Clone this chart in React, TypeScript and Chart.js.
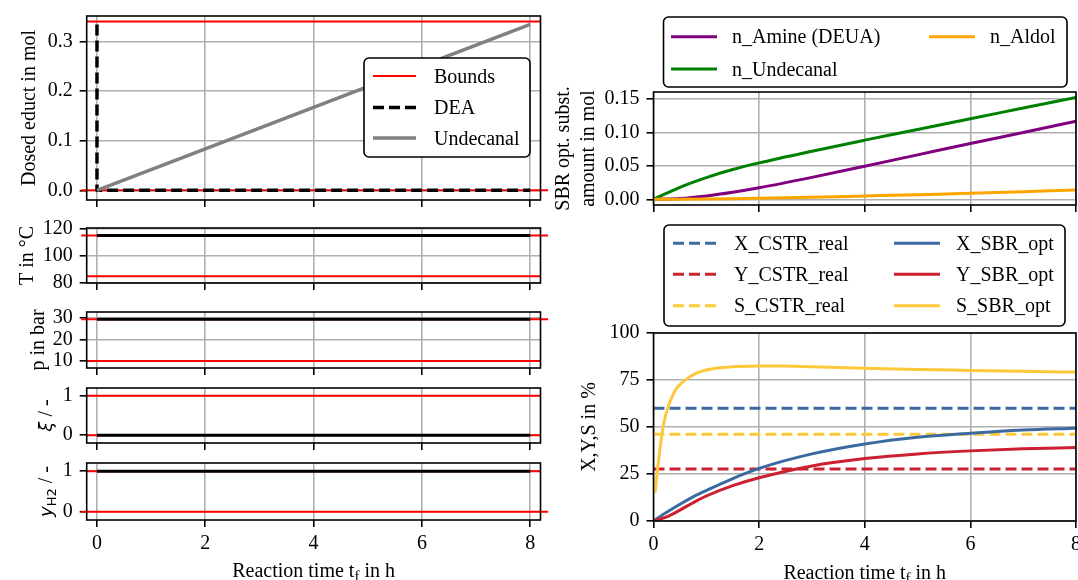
import React, { useEffect, useRef } from "react";
import { Chart, registerables } from "chart.js";

Chart.register(...registerables);

const PAGE_W = 1078;
const PAGE_H = 580;
const SERIF = '"Liberation Serif", "Times New Roman", serif';
const SANS = '"DejaVu Sans", sans-serif';
const FS = 20;

// ---------------- data ----------------
const timeTicks = [0, 2, 4, 6, 8];

// panel 1: dosed educt
const tUndecanalDose = [0, 8];
const undecanalDose = [0, 0.334];
const tDEADose = [0, 0, 8];
const deaDose = [0.334, 0, 0];
const doseBounds = [0, 0.34];
const doseTicks = [0, 0.1, 0.2, 0.3];

// panels 2-5: control profiles
const tProfile = [0, 8];
const tempProfile = [115, 115];
const tempBounds = [85, 115];
const tempTicks = [80, 100, 120];
const presProfile = [29.3, 29.3];
const presBounds = [10, 29.3];
const presTicks = [10, 20, 30];
const xiProfile = [0, 0];
const xiBounds = [0, 1];
const yH2Profile = [1, 1];
const yH2Bounds = [0, 1];
const unitTicks = [0, 1];

// panel 6: SBR substance amounts
const tAmount = [0, 0.5, 1, 1.5, 2, 3, 4, 5, 6, 7, 8];
const nAmine = [0, 0.0012, 0.005, 0.0105, 0.0172, 0.0328, 0.0495, 0.0665, 0.0835, 0.1, 0.1167];
const nUndecanal = [0, 0.018, 0.0325, 0.0445, 0.0545, 0.072, 0.0885, 0.1045, 0.1205, 0.1365, 0.1525];
const nAldol = [0, 0.0001, 0.0004, 0.0009, 0.0015, 0.003, 0.005, 0.007, 0.0089, 0.0114, 0.0139];
const amountTicks = [0, 0.05, 0.1, 0.15];

// panel 7: conversion, yield, selectivity
const tConv = [0, 0.25, 0.5, 0.75, 1, 1.5, 2, 3, 4, 5, 6, 7, 8];
const X_SBR_opt = [0, 4.6, 8.9, 12.8, 16.2, 22.6, 28, 35.7, 41, 44.6, 46.7, 48.4, 49.4];
const Y_SBR_opt = [0, 2.2, 5.8, 9.7, 13.3, 18.8, 23, 29.3, 33.2, 35.7, 37.3, 38.4, 39.1];
const tSel = [0.03, 0.08, 0.12, 0.16, 0.21, 0.27, 0.35, 0.44, 0.55, 0.65, 0.8, 0.9, 1.05, 1.25, 1.6, 2, 2.5, 3, 4, 5, 6, 7, 8];
const S_SBR_opt = [15, 28, 38, 46, 54, 60, 66, 70.7, 73.8, 76, 78.5, 79.6, 80.6, 81.5, 82.2, 82.5, 82.4, 82, 81.2, 80.6, 80.1, 79.6, 79.2];
const tCSTR = [0, 8];
const X_CSTR_real = [60, 60];
const Y_CSTR_real = [27.7, 27.7];
const S_CSTR_real = [46.2, 46.2];
const pctTicks = [0, 25, 50, 75, 100];

// ---------------- styles ----------------
const C = {
  bound: "#ff0000",
  black: "#000000",
  gray: "#808080",
  purple: "#800080",
  green: "#008000",
  orange: "#ffa500",
  blue: "#3a6aa0",
  red: "#cc1f2f",
  yellow: "#fdc93a",
};
const DASH = [11, 5];
const LEFT_X = [-0.19, 8.19];
const EXT_X = [-0.29, 8.33];

const pts = (xs: number[], ys: number[]) => xs.map((x, i) => ({ x, y: ys[i] }));
const hline = (y: number, span: number[]) => [{ x: span[0], y }, { x: span[1], y }];

function line(data: any[], color: string, width: number, dash: number[] = [], extra: any = {}) {
  return {
    data,
    borderColor: color,
    backgroundColor: color,
    borderWidth: width,
    borderDash: dash,
    pointRadius: 0,
    pointHoverRadius: 0,
    fill: false,
    tension: 0,
    borderCapStyle: "butt",
    borderJoinStyle: "round",
    ...extra,
  };
}
const smooth = { cubicInterpolationMode: "monotone" };

type Part = { text: string; family?: string; size?: number; italic?: boolean; dy?: number };
type TitleSpec = { parts: Part[]; cx: number; cy: number; rot: number };
type LegendItem = { label: string; color: string; width: number; dash?: number[]; x1: number; x2: number; tx: number; y: number };
type LegendSpec = { box: number[]; items: LegendItem[] };
type PanelSpec = {
  l: number; t: number; r: number; b: number;
  xMin: number; xMax: number; xLabels: boolean;
  yMin: number; yMax: number; yTicks: number[]; yFmt: (v: number) => string;
  datasets: any[]; // listed bottom layer first
  titles: TitleSpec[];
  legend?: LegendSpec;
};

function fontStr(p: Part) {
  return `${p.italic ? "italic " : ""}${p.size ?? FS}px ${p.family ?? SERIF}`;
}

function drawRich(ctx: CanvasRenderingContext2D, parts: Part[], cx: number, cy: number, rot: number) {
  ctx.save();
  ctx.translate(cx, cy);
  ctx.rotate(rot);
  ctx.fillStyle = "#000";
  ctx.textAlign = "left";
  ctx.textBaseline = "alphabetic";
  const widths = parts.map((p) => {
    ctx.font = fontStr(p);
    return ctx.measureText(p.text).width;
  });
  const total = widths.reduce((a, b) => a + b, 0);
  let x = -total / 2;
  parts.forEach((p, i) => {
    ctx.font = fontStr(p);
    ctx.fillText(p.text, x, 6.5 + (p.dy ?? 0));
    x += widths[i];
  });
  ctx.restore();
}

function roundRect(ctx: CanvasRenderingContext2D, x: number, y: number, w: number, h: number, r: number) {
  ctx.beginPath();
  ctx.moveTo(x + r, y);
  ctx.lineTo(x + w - r, y);
  ctx.arcTo(x + w, y, x + w, y + r, r);
  ctx.lineTo(x + w, y + h - r);
  ctx.arcTo(x + w, y + h, x + w - r, y + h, r);
  ctx.lineTo(x + r, y + h);
  ctx.arcTo(x, y + h, x, y + h - r, r);
  ctx.lineTo(x, y + r);
  ctx.arcTo(x, y, x + r, y, r);
  ctx.closePath();
}

function decoPlugin(spec: PanelSpec) {
  return {
    id: "deco",
    afterDatasetsDraw(chart: any) {
      const { ctx, chartArea: a } = chart;
      ctx.save();
      ctx.strokeStyle = "#000";
      ctx.lineWidth = 1.6;
      ctx.strokeRect(a.left, a.top, a.right - a.left, a.bottom - a.top);
      ctx.restore();
    },
    afterDraw(chart: any) {
      const ctx: CanvasRenderingContext2D = chart.ctx;
      spec.titles.forEach((t) => drawRich(ctx, t.parts, t.cx, t.cy, t.rot));
      if (spec.legend) {
        const [x0, y0, x1, y1] = spec.legend.box;
        ctx.save();
        roundRect(ctx, x0, y0, x1 - x0, y1 - y0, 5);
        ctx.fillStyle = "#fff";
        ctx.fill();
        ctx.strokeStyle = "#000";
        ctx.lineWidth = 1.6;
        ctx.stroke();
        spec.legend.items.forEach((it) => {
          ctx.beginPath();
          ctx.strokeStyle = it.color;
          ctx.lineWidth = it.width;
          ctx.setLineDash(it.dash ?? []);
          ctx.lineCap = "butt";
          ctx.moveTo(it.x1, it.y);
          ctx.lineTo(it.x2, it.y);
          ctx.stroke();
          ctx.setLineDash([]);
          ctx.fillStyle = "#000";
          ctx.font = `${FS}px ${SERIF}`;
          ctx.textAlign = "left";
          ctx.textBaseline = "alphabetic";
          ctx.fillText(it.label, it.tx, it.y + 6.5);
        });
        ctx.restore();
      }
    },
  };
}

const YW = 80;
const XH = 40;

function axis(kind: "x" | "y", min: number, max: number, ticks: number[], fmt: (v: number) => string, show: boolean) {
  return {
    type: "linear",
    position: kind === "x" ? "bottom" : "left",
    min,
    max,
    afterBuildTicks: (s: any) => {
      s.ticks = ticks.map((v) => ({ value: v }));
    },
    afterFit: (s: any) => {
      if (kind === "x") s.height = XH;
      else s.width = YW;
      s.paddingLeft = 0;
      s.paddingRight = 0;
      s.paddingTop = 0;
      s.paddingBottom = 0;
    },
    grid: {
      display: true,
      color: "#b0b0b0",
      lineWidth: 1.6,
      drawTicks: true,
      tickLength: 7,
      tickWidth: 1.6,
      tickColor: "#000",
      drawOnChartArea: true,
    },
    border: { display: false },
    ticks: {
      autoSkip: false,
      maxRotation: 0,
      minRotation: 0,
      padding: kind === "x" ? 5 : 7,
      color: "#000",
      font: { family: SERIF, size: FS },
      callback: (v: any) => (show ? fmt(Number(v)) : ""),
    },
  };
}

function Panel({ spec }: { spec: PanelSpec }) {
  const ref = useRef<HTMLCanvasElement>(null);
  useEffect(() => {
    const chart = new Chart(ref.current as HTMLCanvasElement, {
      type: "line",
      data: { datasets: spec.datasets.slice().reverse() },
      options: {
        responsive: false,
        animation: false,
        events: [],
        layout: {
          padding: { left: spec.l - YW, top: spec.t, right: PAGE_W - spec.r, bottom: PAGE_H - spec.b - XH },
        },
        plugins: { legend: { display: false }, tooltip: { enabled: false }, title: { display: false } },
        scales: {
          x: axis("x", spec.xMin, spec.xMax, timeTicks, (v) => String(v), spec.xLabels),
          y: axis("y", spec.yMin, spec.yMax, spec.yTicks, spec.yFmt, true),
        },
      } as any,
      plugins: [decoPlugin(spec) as any],
    });
    return () => chart.destroy();
  }, [spec]);
  return (
    <canvas
      ref={ref}
      width={PAGE_W}
      height={PAGE_H}
      style={{ position: "absolute", left: 0, top: 0, width: PAGE_W, height: PAGE_H }}
    />
  );
}

const LL = 86.7;
const LR = 540.5;
const RL = 653.5;
const RR = 1076;
const rot = -Math.PI / 2;
const xTitleParts: Part[] = [
  { text: "Reaction time t" },
  { text: "f", size: 15, dy: 4 },
  { text: " in h" },
];

const panels: PanelSpec[] = [
  {
    l: LL, t: 16, r: LR, b: 200,
    xMin: LEFT_X[0], xMax: LEFT_X[1], xLabels: false,
    yMin: -0.0195, yMax: 0.351, yTicks: doseTicks, yFmt: (v) => v.toFixed(1),
    datasets: [
      line(hline(doseBounds[0], EXT_X), C.bound, 2, [], { clip: false }),
      line(hline(doseBounds[1], LEFT_X), C.bound, 2),
      line(pts(tDEADose, deaDose), C.black, 3.5, DASH),
      line(pts(tUndecanalDose, undecanalDose), C.gray, 3.5),
    ],
    titles: [{ parts: [{ text: "Dosed educt in mol" }], cx: 28, cy: 108, rot }],
    legend: {
      box: [364, 58, 530, 157],
      items: [
        { label: "Bounds", color: C.bound, width: 2, x1: 373, x2: 416, tx: 434, y: 76 },
        { label: "DEA", color: C.black, width: 3.5, dash: DASH, x1: 373, x2: 416, tx: 434, y: 107.5 },
        { label: "Undecanal", color: C.gray, width: 3.5, x1: 373, x2: 416, tx: 434, y: 138 },
      ],
    },
  },
  {
    l: LL, t: 228, r: LR, b: 283,
    xMin: LEFT_X[0], xMax: LEFT_X[1], xLabels: false,
    yMin: 80, yMax: 120.5, yTicks: tempTicks, yFmt: (v) => String(v),
    datasets: [
      line(hline(tempBounds[1], EXT_X), C.bound, 2, [], { clip: false }),
      line(hline(tempBounds[0], LEFT_X), C.bound, 2),
      line(pts(tProfile, tempProfile), C.black, 3),
    ],
    titles: [{ parts: [{ text: "T in °C" }], cx: 26, cy: 255.5, rot }],
  },
  {
    l: LL, t: 312, r: LR, b: 368,
    xMin: LEFT_X[0], xMax: LEFT_X[1], xLabels: false,
    yMin: 6.8, yMax: 32.6, yTicks: presTicks, yFmt: (v) => String(v),
    datasets: [
      line(hline(presBounds[1], EXT_X), C.bound, 2, [], { clip: false }),
      line(hline(presBounds[0], LEFT_X), C.bound, 2),
      line(pts(tProfile, presProfile), C.black, 3),
    ],
    titles: [{ parts: [{ text: "p in bar" }], cx: 37, cy: 340, rot }],
  },
  {
    l: LL, t: 388, r: LR, b: 443,
    xMin: LEFT_X[0], xMax: LEFT_X[1], xLabels: false,
    yMin: -0.2, yMax: 1.2, yTicks: unitTicks, yFmt: (v) => String(v),
    datasets: [
      line(hline(xiBounds[1], LEFT_X), C.bound, 2),
      line(hline(xiBounds[0], LEFT_X), C.bound, 2),
      line(pts(tProfile, xiProfile), C.black, 3),
    ],
    titles: [
      {
        parts: [{ text: "ξ", family: SANS, italic: true, size: 18 }, { text: " / -" }],
        cx: 45, cy: 415.5, rot,
      },
    ],
  },
  {
    l: LL, t: 463, r: LR, b: 520,
    xMin: LEFT_X[0], xMax: LEFT_X[1], xLabels: true,
    yMin: -0.2, yMax: 1.2, yTicks: unitTicks, yFmt: (v) => String(v),
    datasets: [
      line(hline(yH2Bounds[0], EXT_X), C.bound, 2, [], { clip: false }),
      line(hline(yH2Bounds[1], LEFT_X), C.bound, 2),
      line(pts(tProfile, yH2Profile), C.black, 3),
    ],
    titles: [
      {
        parts: [
          { text: "y", family: SANS, italic: true, size: 18 },
          { text: "H2", family: SANS, size: 13, dy: 4 },
          { text: " / -" },
        ],
        cx: 45, cy: 491.5, rot,
      },
      { parts: xTitleParts, cx: (LL + LR) / 2, cy: 570.5, rot: 0 },
    ],
  },
  {
    l: RL, t: 92, r: RR, b: 205,
    xMin: 0, xMax: 8, xLabels: false,
    yMin: -0.0085, yMax: 0.1605, yTicks: amountTicks, yFmt: (v) => v.toFixed(2),
    datasets: [
      line(pts(tAmount, nAmine), C.purple, 3, [], smooth),
      line(pts(tAmount, nUndecanal), C.green, 3, [], smooth),
      line(pts(tAmount, nAldol), C.orange, 3, [], smooth),
    ],
    titles: [
      { parts: [{ text: "SBR opt. subst." }], cx: 562, cy: 148.5, rot },
      { parts: [{ text: "amount in mol" }], cx: 587, cy: 148.5, rot },
    ],
    legend: {
      box: [663.5, 17, 1067, 87],
      items: [
        { label: "n_Amine (DEUA)", color: C.purple, width: 3, x1: 671, x2: 717, tx: 732, y: 36.7 },
        { label: "n_Undecanal", color: C.green, width: 3, x1: 671, x2: 717, tx: 732, y: 69 },
        { label: "n_Aldol", color: C.orange, width: 3, x1: 929, x2: 975, tx: 990, y: 36.7 },
      ],
    },
  },
  {
    l: RL, t: 333, r: RR, b: 521,
    xMin: 0, xMax: 8, xLabels: true,
    yMin: 0, yMax: 100, yTicks: pctTicks, yFmt: (v) => String(v),
    datasets: [
      line(pts(tCSTR, X_CSTR_real), C.blue, 3, DASH),
      line(pts(tCSTR, Y_CSTR_real), C.red, 3, DASH),
      line(pts(tCSTR, S_CSTR_real), C.yellow, 3, DASH),
      line(pts(tConv, X_SBR_opt), C.blue, 3, [], smooth),
      line(pts(tConv, Y_SBR_opt), C.red, 3, [], smooth),
      line(pts(tSel, S_SBR_opt), C.yellow, 3, [], smooth),
    ],
    titles: [
      { parts: [{ text: "X,Y,S in %" }], cx: 588, cy: 427, rot },
      { parts: xTitleParts, cx: (RL + RR) / 2, cy: 572, rot: 0 },
    ],
    legend: {
      box: [664, 225, 1065, 326],
      items: [
        { label: "X_CSTR_real", color: C.blue, width: 3, dash: DASH, x1: 673, x2: 717, tx: 734, y: 243.3 },
        { label: "Y_CSTR_real", color: C.red, width: 3, dash: DASH, x1: 673, x2: 717, tx: 734, y: 274.3 },
        { label: "S_CSTR_real", color: C.yellow, width: 3, dash: DASH, x1: 673, x2: 717, tx: 734, y: 305.7 },
        { label: "X_SBR_opt", color: C.blue, width: 3, x1: 894, x2: 940, tx: 956, y: 243.3 },
        { label: "Y_SBR_opt", color: C.red, width: 3, x1: 894, x2: 940, tx: 956, y: 274.3 },
        { label: "S_SBR_opt", color: C.yellow, width: 3, x1: 894, x2: 940, tx: 956, y: 305.7 },
      ],
    },
  },
];

export default function App() {
  return (
    <div style={{ position: "absolute", left: 0, top: 0, width: PAGE_W, height: PAGE_H, background: "#fff", overflow: "hidden" }}>
      {panels.map((p, i) => (
        <Panel key={i} spec={p} />
      ))}
    </div>
  );
}
